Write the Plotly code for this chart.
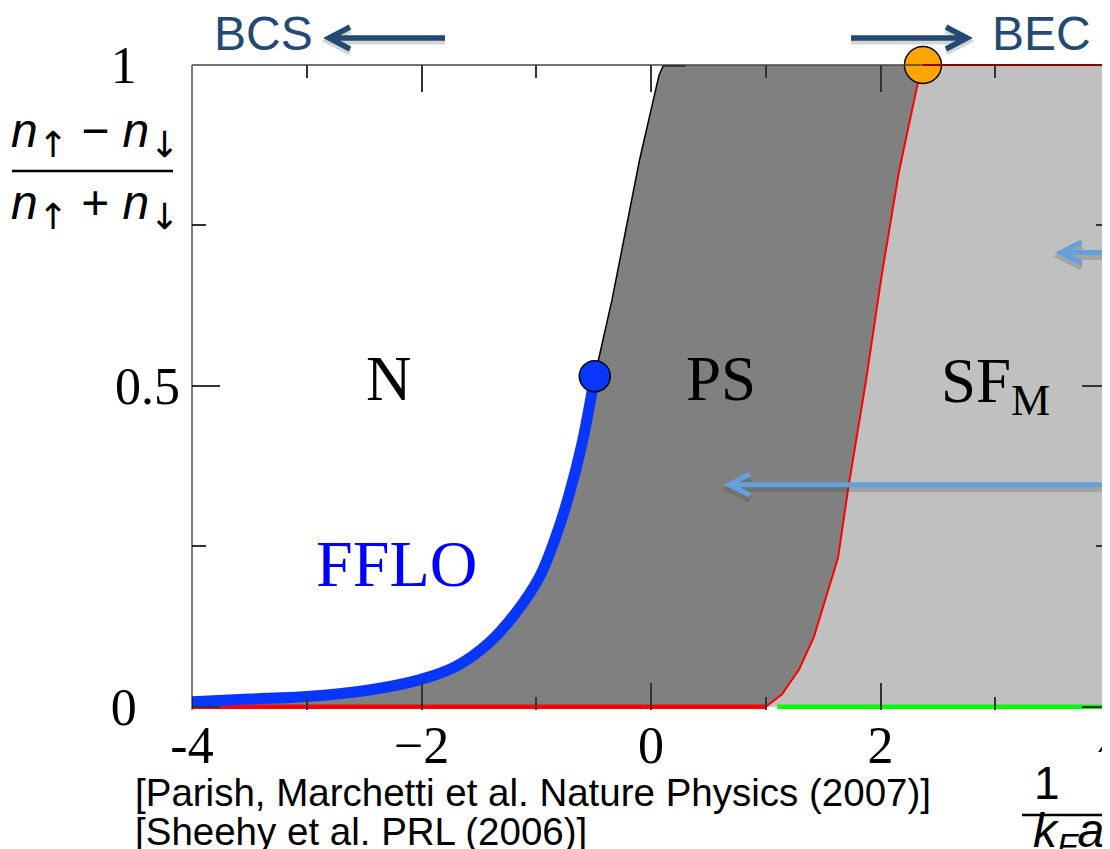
import plotly.graph_objects as go

# ---------------- data ----------------
# FFLO boundary (thick blue line), 1/(kF a) vs polarization
fflo_x = [-4.0, -3.5, -3.0, -2.5, -2.02, -1.70, -1.41, -1.18, -0.97, -0.83, -0.71, -0.60, -0.49]
fflo_y = [0.008, 0.012, 0.016, 0.025, 0.042, 0.063, 0.100, 0.146, 0.203, 0.265, 0.333, 0.411, 0.515]

# N / PS boundary (thin black line)
nps_x = [-0.49, -0.34, -0.10, 0.03, 0.07, 0.11, 0.30]
nps_y = [0.515, 0.634, 0.852, 0.950, 0.984, 1.0, 1.0]

# PS / SF_M boundary (thin red line)
sf_x = [1.00, 1.14, 1.29, 1.42, 1.63, 1.72, 1.87, 2.01, 2.16, 2.33, 2.37]
sf_y = [0.0, 0.019, 0.058, 0.109, 0.232, 0.342, 0.504, 0.672, 0.833, 0.976, 1.0]

# special points
tricrit_x, tricrit_y = [-0.49], [0.515]
orange_x, orange_y = [2.37], [1.0]

# bottom / top axis segments
red_base_x = [-4.0, 1.0]
green_base_x = [1.1, 4.0]
top_red_x = [2.37, 4.0]

# axis ticks
x_tickvals = [-4, -2, 0, 2, 4]
x_ticktext = ["-4", "\u22122", "0", "2", "4"]
x_minor = [-3, -1, 1, 3]
PAD = "\u00a0\u00a0\u00a0\u200a"
y_tickvals = [0, 0.5, 1]
y_ticktext = ["0" + PAD, "0.5", "1" + PAD]
y_minor = [0.25, 0.75]

# region labels
region_labels = ["N", "PS", "SF<sub>M</sub>"]
region_x = [-2.28, 0.61, 3.0]
region_y = [0.51, 0.51, 0.50]

# ---------------- figure geometry ----------------
OFF = 8  # page body margin of the html page
W, H = 1110 - OFF, 849 - OFF
ML, MT = 192 - OFF, 65 - OFF
MR = 0
PB = 710 - OFF  # plot bottom in figure pixels
MB = H - PB
PW, PH = W - ML - MR, H - MT - MB


def px(xp):
    """screen pixel x -> paper x"""
    return (xp - OFF - ML) / PW


def py(yp):
    """screen pixel y -> paper y"""
    return (PB - (yp - OFF)) / PH


DARK = "#808080"
LIGHT = "#c0c0c0"
BLUE = "#0836ff"
SERIF = "Liberation Serif"
SANS = "Liberation Sans"
NAVY = "#244a74"
SKY = "#64a0dc"

fig = go.Figure()

# light gray SF_M region
fig.add_trace(go.Scatter(
    x=sf_x + [4.0, 4.0], y=sf_y + [1.0, 0.0],
    fill="toself", fillcolor=LIGHT, mode="lines", line=dict(width=0),
    hoverinfo="skip", showlegend=False))

# dark gray PS region
ps_poly_x = fflo_x + nps_x[1:] + sf_x[::-1] + [-4.0]
ps_poly_y = fflo_y + nps_y[1:] + sf_y[::-1] + [0.0]
fig.add_trace(go.Scatter(
    x=ps_poly_x, y=ps_poly_y,
    fill="toself", fillcolor=DARK, mode="lines", line=dict(width=0),
    hoverinfo="skip", showlegend=False))

# boundaries
fig.add_trace(go.Scatter(x=nps_x[:-1], y=nps_y[:-1], mode="lines",
                         line=dict(color="black", width=1.5), showlegend=False, hoverinfo="skip"))
fig.add_trace(go.Scatter(x=nps_x[-2:], y=nps_y[-2:], mode="lines",
                         line=dict(color="black", width=3), showlegend=False, hoverinfo="skip"))
fig.add_trace(go.Scatter(x=sf_x, y=sf_y, mode="lines",
                         line=dict(color="#ff0000", width=2), showlegend=False, hoverinfo="skip"))
fig.add_trace(go.Scatter(x=red_base_x, y=[0, 0], mode="lines",
                         line=dict(color="#ff0000", width=4.5), showlegend=False, hoverinfo="skip"))
fig.add_trace(go.Scatter(x=green_base_x, y=[0, 0], mode="lines",
                         line=dict(color="#00ff00", width=4.5), showlegend=False, hoverinfo="skip"))
fig.add_trace(go.Scatter(x=fflo_x, y=fflo_y, mode="lines",
                         line=dict(color=BLUE, width=11, shape="spline", smoothing=1.0),
                         showlegend=False, hoverinfo="skip"))

# sky-blue arrows inside the plot (with soft shadow)
sky_arrows = [(0.346, 0.68), (0.708, 3.57)]
dx_arm, dy_arm = 21 / (PW / 8.0), 10.5 / (PH / 1.005)
sh = 4 / (PH / 1.005)
for yy, tip in sky_arrows:
    for dyo, col, w in [(-sh, "rgba(60,60,60,0.22)", 7), (0, SKY, 5)]:
        fig.add_shape(type="path", xref="x", yref="y",
                      path=f"M 4.1,{yy+dyo} L {tip},{yy+dyo} "
                           f"M {tip+dx_arm},{yy+dyo+dy_arm} L {tip},{yy+dyo} L {tip+dx_arm},{yy+dyo-dy_arm}",
                      line=dict(color=col, width=w))

# tricritical point
fig.add_trace(go.Scatter(x=tricrit_x, y=tricrit_y, mode="markers",
                         marker=dict(size=31, color=BLUE, line=dict(color="black", width=1.5)),
                         cliponaxis=False, showlegend=False, hoverinfo="skip"))

# plot borders
fig.add_shape(type="line", xref="paper", yref="paper", x0=0, x1=0, y0=0, y1=1,
              line=dict(color="black", width=1))
fig.add_shape(type="line", xref="x", yref="paper", x0=-4, x1=orange_x[0], y0=1, y1=1,
              line=dict(color="#444444", width=1.5))
fig.add_shape(type="line", xref="x", yref="paper", x0=top_red_x[0], x1=top_red_x[1], y0=1, y1=1,
              line=dict(color="#8b0000", width=2))

fig.add_trace(go.Scatter(x=orange_x, y=orange_y, mode="markers",
                         marker=dict(size=37, color="#ffa500", line=dict(color="black", width=1.5)),
                         cliponaxis=False, showlegend=False, hoverinfo="skip"))

# region labels
for t, xx, yy in zip(region_labels, region_x, region_y):
    fig.add_annotation(x=xx, y=yy, xref="x", yref="y", text=t, showarrow=False,
                       xanchor="center", yanchor="middle",
                       font=dict(family=SERIF, size=63, color="black"))
fig.add_annotation(x=-2.22, y=0.224, xref="x", yref="y", text="FFLO", showarrow=False,
                   xanchor="center", yanchor="middle",
                   font=dict(family=SERIF, size=66, color="#0000ff"))

ARR = "<span style=\"font-family:'DejaVu Sans';font-size:36px\">{}</span>"
UP, DN = ARR.format("\u2191"), ARR.format("\u2193")


def ann(xp, yp, text, size, family=SANS, color="black", xanchor="center"):
    fig.add_annotation(x=px(xp), y=py(yp), xref="paper", yref="paper", showarrow=False,
                       xanchor=xanchor, yanchor="middle", text=text,
                       font=dict(family=family, size=size, color=color))


# y-axis title (fraction)
ann(95, 135, f"<i>n</i><sub>{UP}</sub> \u2212 <i>n</i><sub>{DN}</sub>", 48)
fig.add_shape(type="line", xref="paper", yref="paper", x0=px(12), x1=px(173), y0=py(171), y1=py(171),
              line=dict(color="black", width=2.5))
ann(95, 206, f"<i>n</i><sub>{UP}</sub> + <i>n</i><sub>{DN}</sub>", 48)

# x-axis title (fraction) with white backing
fig.add_shape(type="rect", xref="paper", yref="paper", x0=px(1012), x1=px(1115), y0=py(855), y1=py(752),
              fillcolor="white", line=dict(width=0), layer="above")
ann(1047, 783, "1", 46)
fig.add_shape(type="line", xref="paper", yref="paper", x0=px(1022), x1=px(1115), y0=py(815), y1=py(815),
              line=dict(color="black", width=2.5))
ann(1068, 834, "<i>k</i><sub><i>F</i></sub><i>a</i>", 48)

# citations
ann(133, 792, "[Parish, Marchetti et al. Nature Physics (2007)]", 38.5, xanchor="left")
ann(133, 831, "[Sheehy et al. PRL (2006)]", 38.5, xanchor="left")

# BCS / BEC labels and arrows
ann(263, 34, "BCS", 48, color=NAVY)
ann(1041, 34, "BEC", 48, color=NAVY)
for (x_tail, x_tip, x_arm) in [(445, 329, 350), (851, 967, 946)]:
    for off, col, w in [(3, "rgba(60,60,60,0.22)", 7), (0, NAVY, 5.5)]:
        fig.add_shape(type="path", xref="paper", yref="paper",
                      path=(f"M {px(x_tail)},{py(38+off)} L {px(x_tip)},{py(38+off)} "
                            f"M {px(x_arm)},{py(27+off)} L {px(x_tip)},{py(38+off)} L {px(x_arm)},{py(49+off)}"),
                      line=dict(color=col, width=w))

tick_common = dict(ticks="inside", tickwidth=1.5, tickcolor="#333333", showgrid=False,
                   zeroline=False, showline=False, mirror="ticks", ticklabeloverflow="allow")
fig.update_xaxes(range=[-4, 4], tickvals=x_tickvals, ticktext=x_ticktext, ticklen=27,
                 tickfont=dict(family=SERIF, size=52, color="black"),
                 minor=dict(ticks="inside", tickvals=x_minor, ticklen=13, tickwidth=1.5, tickcolor="#333333"),
                 **tick_common)
fig.update_yaxes(range=[-0.005, 1.0], tickvals=y_tickvals, ticktext=y_ticktext, ticklen=28,
                 tickfont=dict(family=SERIF, size=52, color="black"), ticklabelstandoff=11,
                 minor=dict(ticks="inside", tickvals=y_minor, ticklen=14, tickwidth=1.5, tickcolor="#333333"),
                 **tick_common)

fig.update_layout(width=W, height=H, margin=dict(l=ML, r=MR, t=MT, b=MB, autoexpand=False),
                  plot_bgcolor="white", paper_bgcolor="white", showlegend=False)

fig.write_html("out.html")
